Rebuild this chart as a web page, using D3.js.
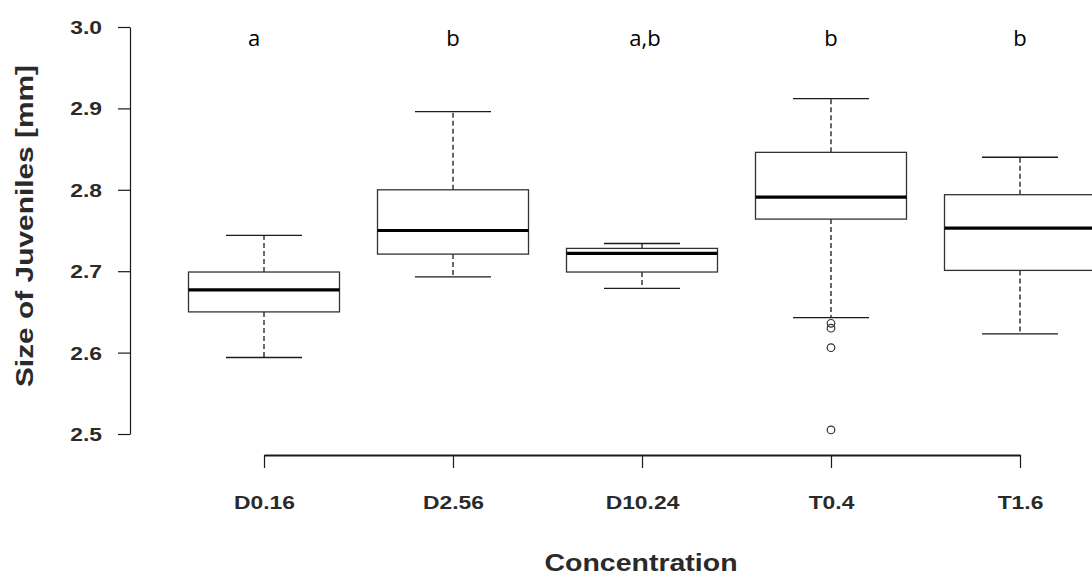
<!DOCTYPE html>
<html>
<head>
<meta charset="utf-8">
<script src="https://cdn.jsdelivr.net/npm/d3@7"></script>
<style>
  html, body { margin: 0; padding: 0; background: #fff; }
  svg { display: block; }
</style>
</head>
<body>
<svg id="chart" width="1092" height="579"></svg>
<script>
// ---- data ----
const categories   = ["D0.16", "D2.56", "D10.24", "T0.4", "T1.6"];
const whiskerLow   = [2.594, 2.693, 2.679, 2.643, 2.623];
const q1           = [2.650, 2.721, 2.699, 2.764, 2.701];
const medians      = [2.677, 2.750, 2.722, 2.791, 2.753];
const q3           = [2.699, 2.800, 2.728, 2.846, 2.794];
const whiskerHigh  = [2.744, 2.896, 2.734, 2.912, 2.840];
const outliers     = [[], [], [], [2.636, 2.630, 2.606, 2.505], []];
const letters      = ["a", "b", "a,b", "b", "b"];
const yTicks       = [2.5, 2.6, 2.7, 2.8, 2.9, 3.0];

// ---- layout ----
const svg = d3.select("#chart");
const y = d3.scaleLinear().domain([2.5, 3.0]).range([434, 27]);
const x = d3.scalePoint().domain(categories).range([264, 1020]);
const boxW = 151;
const capW = 76;
const ink = "#1a1a1a";
const rFont = "Liberation Sans, Arial, sans-serif";
const stretch = 1.27;

// y axis
const yAxis = d3.axisLeft(y).tickValues(yTicks).tickFormat(d3.format(".1f")).tickSize(12).tickSizeOuter(0);
const gy = svg.append("g").attr("transform", "translate(130,0)").call(yAxis);
gy.select(".domain").attr("stroke", ink).attr("stroke-width", 1.2);
gy.selectAll(".tick line").attr("stroke", ink).attr("stroke-width", 1.2);
gy.selectAll(".tick text")
  .attr("x", 0).attr("dy", "0.36em")
  .attr("transform", `translate(-28,0) scale(${stretch},1)`)
  .attr("font-family", rFont)
  .attr("font-weight", "bold")
  .attr("font-size", 18)
  .attr("fill", "#2a2a2a");

// x axis
const xAxis = d3.axisBottom(x).tickSize(13).tickSizeOuter(0);
const gx = svg.append("g").attr("transform", "translate(0,455)").call(xAxis);
gx.select(".domain").attr("stroke", ink).attr("stroke-width", 2);
gx.selectAll(".tick line").attr("stroke", ink).attr("stroke-width", 1.2);
gx.selectAll(".tick text")
  .attr("y", 0).attr("dy", 0)
  .attr("transform", `translate(0,54) scale(${stretch},1)`)
  .attr("font-family", rFont)
  .attr("font-weight", "bold")
  .attr("font-size", 18)
  .attr("fill", "#2a2a2a");

// axis titles
svg.append("text")
  .attr("transform", "translate(33,226) rotate(-90) scale(1.3,1)")
  .attr("text-anchor", "middle")
  .attr("font-family", rFont)
  .attr("font-weight", "bold")
  .attr("font-size", 23)
  .attr("fill", "#2a2a2a")
  .text("Size of Juveniles [mm]");

svg.append("text")
  .attr("transform", "translate(641,571) scale(1.24,1)")
  .attr("text-anchor", "middle")
  .attr("font-family", rFont)
  .attr("font-weight", "bold")
  .attr("font-size", 23)
  .attr("fill", "#2a2a2a")
  .text("Concentration");

// boxes
const idx = d3.range(categories.length);
const g = svg.append("g");

// whiskers (dashed)
g.selectAll(".wlo").data(idx).join("line")
  .attr("x1", i => x(categories[i])).attr("x2", i => x(categories[i]))
  .attr("y1", i => y(q1[i])).attr("y2", i => y(whiskerLow[i]))
  .attr("stroke", ink).attr("stroke-width", 1.3).attr("stroke-dasharray", "5,3");
g.selectAll(".whi").data(idx).join("line")
  .attr("x1", i => x(categories[i])).attr("x2", i => x(categories[i]))
  .attr("y1", i => y(q3[i])).attr("y2", i => y(whiskerHigh[i]))
  .attr("stroke", ink).attr("stroke-width", 1.3).attr("stroke-dasharray", "5,3");

// caps
g.selectAll(".caplo").data(idx).join("line")
  .attr("x1", i => x(categories[i]) - capW / 2).attr("x2", i => x(categories[i]) + capW / 2)
  .attr("y1", i => y(whiskerLow[i])).attr("y2", i => y(whiskerLow[i]))
  .attr("stroke", ink).attr("stroke-width", 1.3);
g.selectAll(".caphi").data(idx).join("line")
  .attr("x1", i => x(categories[i]) - capW / 2).attr("x2", i => x(categories[i]) + capW / 2)
  .attr("y1", i => y(whiskerHigh[i])).attr("y2", i => y(whiskerHigh[i]))
  .attr("stroke", ink).attr("stroke-width", 1.3);

// box rectangles
g.selectAll(".box").data(idx).join("rect")
  .attr("x", i => x(categories[i]) - boxW / 2)
  .attr("y", i => y(q3[i]))
  .attr("width", boxW)
  .attr("height", i => y(q1[i]) - y(q3[i]))
  .attr("fill", "#fff")
  .attr("stroke", "#333").attr("stroke-width", 1.3);

// medians
g.selectAll(".med").data(idx).join("line")
  .attr("x1", i => x(categories[i]) - boxW / 2).attr("x2", i => x(categories[i]) + boxW / 2)
  .attr("y1", i => y(medians[i])).attr("y2", i => y(medians[i]))
  .attr("stroke", "#000").attr("stroke-width", 3.2);

// outliers
const outPts = [];
outliers.forEach((arr, i) => arr.forEach(v => outPts.push({ c: categories[i], v })));
g.selectAll(".out").data(outPts).join("circle")
  .attr("cx", d => x(d.c)).attr("cy", d => y(d.v)).attr("r", 3.8)
  .attr("fill", "none").attr("stroke", "#333").attr("stroke-width", 1.2);

// significance letters
svg.selectAll(".letter").data(idx).join("text")
  .attr("x", i => x(categories[i]) - (i === 0 ? 10 : 0) + (i === 2 ? 3 : 0))
  .attr("y", 46)
  .attr("text-anchor", "middle")
  .attr("font-family", "Open Sans, Liberation Sans, sans-serif")
  .attr("font-size", 22)
  .attr("fill", "#000")
  .text(i => letters[i]);
</script>
</body>
</html>
